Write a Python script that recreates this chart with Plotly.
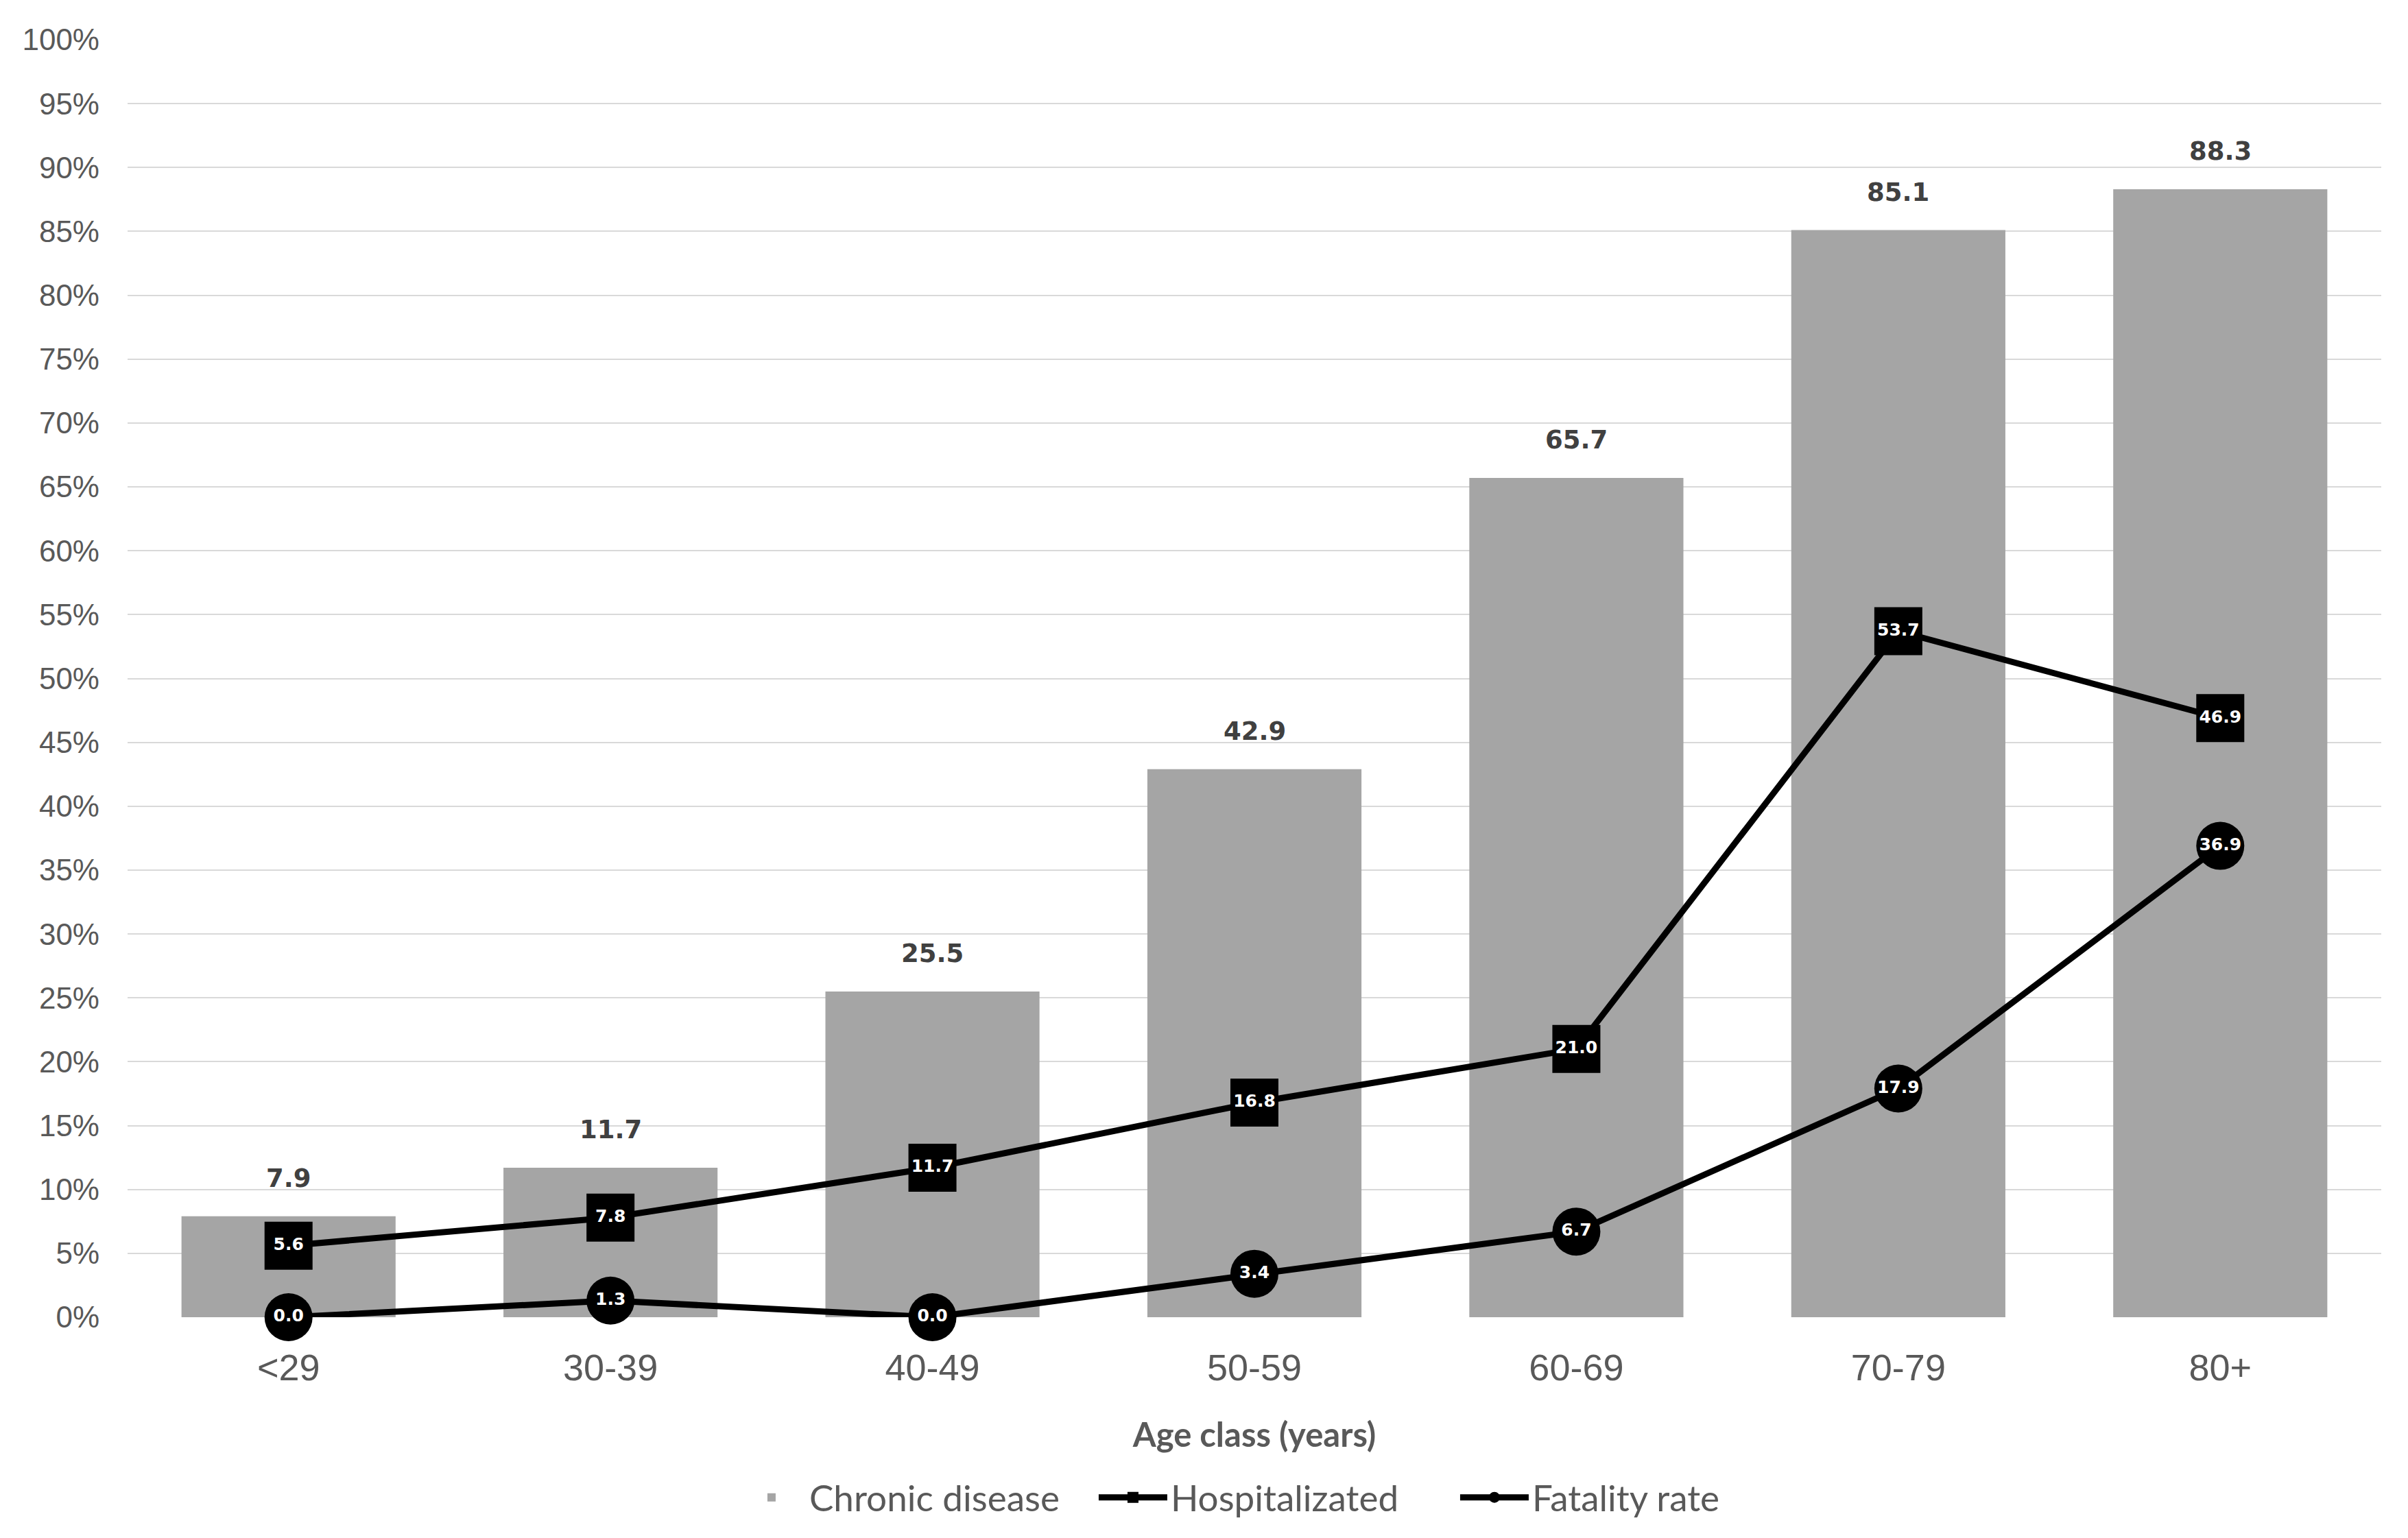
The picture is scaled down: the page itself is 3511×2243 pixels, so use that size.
import plotly.graph_objects as go

categories = ["<29", "30-39", "40-49", "50-59", "60-69", "70-79", "80+"]
chronic_disease = [7.9, 11.7, 25.5, 42.9, 65.7, 85.1, 88.3]
hospitalized = [5.6, 7.8, 11.7, 16.8, 21.0, 53.7, 46.9]
fatality_rate = [0.0, 1.3, 0.0, 3.4, 6.7, 17.9, 36.9]
y_ticks = list(range(0, 101, 5))
y_tick_labels = [f"{v}%" for v in y_ticks]

fig = go.Figure()

fig.add_trace(go.Bar(
    x=categories, y=chronic_disease, name="Chronic disease",
    marker=dict(color="#A5A5A5", line=dict(width=0)),
))

fig.add_trace(go.Scatter(
    x=categories, y=hospitalized, name="Hospitalizated",
    mode="lines+markers+text",
    line=dict(color="black", width=9),
    marker=dict(symbol="square", size=70, color="black"),
    text=[f"{v:.1f}" for v in hospitalized],
    textposition="middle center",
    textfont=dict(family="DejaVu Sans", size=25, color="white", weight="bold"),
    cliponaxis=False,
))

fig.add_trace(go.Scatter(
    x=categories, y=fatality_rate, name="Fatality rate",
    mode="lines+markers+text",
    line=dict(color="black", width=9),
    marker=dict(symbol="circle", size=70, color="black"),
    text=[f"{v:.1f}" for v in fatality_rate],
    textposition="middle center",
    textfont=dict(family="DejaVu Sans", size=25, color="white", weight="bold"),
    cliponaxis=False,
))

for c, v in zip(categories, chronic_disease):
    fig.add_annotation(
        x=c, y=v, text=f"<b>{v:.1f}</b>", showarrow=False,
        yanchor="bottom", yshift=32,
        font=dict(family="DejaVu Sans", size=37, color="#404040"),
    )

fig.update_layout(
    width=3511, height=2243,
    margin=dict(l=178, r=47, t=50, b=330),
    paper_bgcolor="white", plot_bgcolor="white",
    bargap=0.335,
    showlegend=True,
    legend=dict(
        orientation="h", x=0.269, xanchor="left", y=-0.141, yanchor="middle",
        font=dict(family="Lato", size=53, color="#595959"),
        entrywidth=412, entrywidthmode="pixels",
        itemwidth=100,
        traceorder="normal",
    ),
    xaxis=dict(
        type="category",
        tickfont=dict(family="Liberation Sans Narrow, Liberation Sans", size=54, color="#595959"),
        ticklabelstandoff=37,
        showgrid=False, showline=False, zeroline=False,
        title=dict(text="<b>Age class (years)</b>", standoff=52,
                   font=dict(family="Lato", size=49, color="#595959")),
    ),
    yaxis=dict(
        range=[0, 100],
        tickvals=y_ticks, ticktext=y_tick_labels,
        tickfont=dict(family="Liberation Sans", size=44, color="#595959"),
        ticklabelstandoff=40,
        showgrid=True, gridcolor="#D9D9D9", gridwidth=2,
        zeroline=False, showline=False,
    ),
)

fig.write_html("out.html")
